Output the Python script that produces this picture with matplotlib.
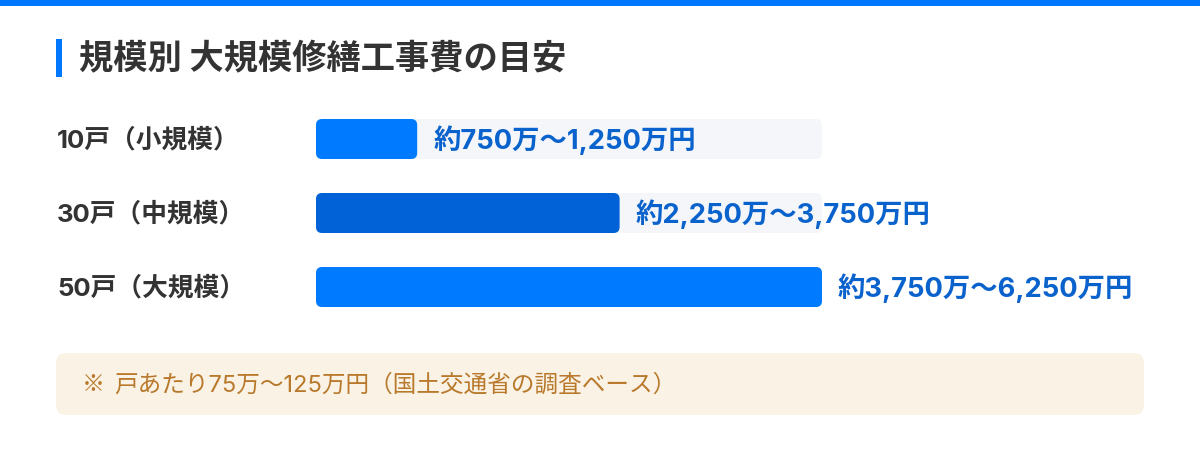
import matplotlib
matplotlib.use("Agg")
import matplotlib.pyplot as plt
from matplotlib.patches import FancyBboxPatch, Rectangle

CJK = ['Noto Sans CJK JP', 'DejaVu Sans']
MIX = ['Inter', 'Noto Sans CJK JP', 'DejaVu Sans']
plt.rcParams['font.family'] = CJK

# ---- data ----
title = "規模別 大規模修繕工事費の目安"
categories = ["10戸（小規模）", "30戸（中規模）", "50戸（大規模）"]
cost_low = [750, 2250, 3750]      # 万円
cost_high = [1250, 3750, 6250]    # 万円
scale_max = 6250
note_mark = "※"
note = "戸あたり75万〜125万円（国土交通省の調査ベース）"

bar_colors = ["#007BFF", "#0062D6", "#007BFF"]
track_color = "#F4F6FA"
label_color = "#0A62CC"
text_dark = "#333333"
note_color = "#B8792C"

W, H = 1200, 456
fig = plt.figure(figsize=(W / 100, H / 100), dpi=100)
fig.patch.set_facecolor("white")

# decoration layer in pixel coordinates
bg = fig.add_axes([0, 0, 1, 1])
bg.set_xlim(0, W)
bg.set_ylim(H, 0)
bg.axis("off")
bg.add_patch(Rectangle((0, 0), W, 7, color="#0077FF", lw=0))
bg.add_patch(Rectangle((56, 40), 6, 38, color="#0077FF", lw=0))
bg.text(79, 59, title, fontsize=24.7, fontweight="bold", color=text_dark,
        va="center", ha="left", family=CJK)
bg.add_patch(FancyBboxPatch((56, 354), 1088, 62,
                            boxstyle="round,pad=0,rounding_size=10",
                            fc="#FAF2E4", ec="none"))
t_mark = bg.text(82, 385, note_mark, fontsize=16.5, color=note_color,
                 va="center", ha="left", family=CJK)
bg.annotate(note, xy=(1, 0.5), xycoords=t_mark, xytext=(9, 0),
            textcoords="offset pixels", fontsize=17, color=note_color,
            va="center", ha="left", family=MIX)

# bar axes: x 316..822 px, y 120..308 px
x0, x1, y0, y1 = 316, 822, 120, 308
ax = fig.add_axes([x0 / W, 1 - y1 / H, (x1 - x0) / W, (y1 - y0) / H])
ax.axis("off")
bar_h = 40 / 74
ax.set_xlim(0, scale_max)
ax.set_ylim(len(categories) - 1 + bar_h / 2, -bar_h / 2)

px_x = scale_max / (x1 - x0)     # data units per pixel in x
px_y = (len(categories) - 1 + bar_h) / (y1 - y0)
radius_px = 6


def rbar(ax, y, width, color, z):
    p = FancyBboxPatch((0, y - bar_h / 2), width, bar_h,
                       boxstyle=f"round,pad=0,rounding_size={radius_px * px_x}",
                       mutation_aspect=px_y / px_x,
                       fc=color, ec="none", zorder=z)
    ax.add_patch(p)


for i, (cat, lo, hi, c) in enumerate(zip(categories, cost_low, cost_high, bar_colors)):
    rbar(ax, i, scale_max, track_color, 1)
    rbar(ax, i, hi, c, 2)
    ax.annotate(f"約{lo:,}万〜{hi:,}万円", xy=(hi, i), xytext=(16, 0),
                textcoords="offset pixels", va="center", ha="left",
                fontsize=19.7, fontweight="bold", color=label_color, zorder=3,
                annotation_clip=False, family=MIX)
    ax.annotate(cat, xy=(0, i), xytext=(57 - x0, 0), textcoords="offset pixels",
                va="center", ha="left", fontsize=18.5, fontweight="bold",
                color=text_dark, annotation_clip=False, family=MIX)

fig.savefig("out.png", dpi=100)
